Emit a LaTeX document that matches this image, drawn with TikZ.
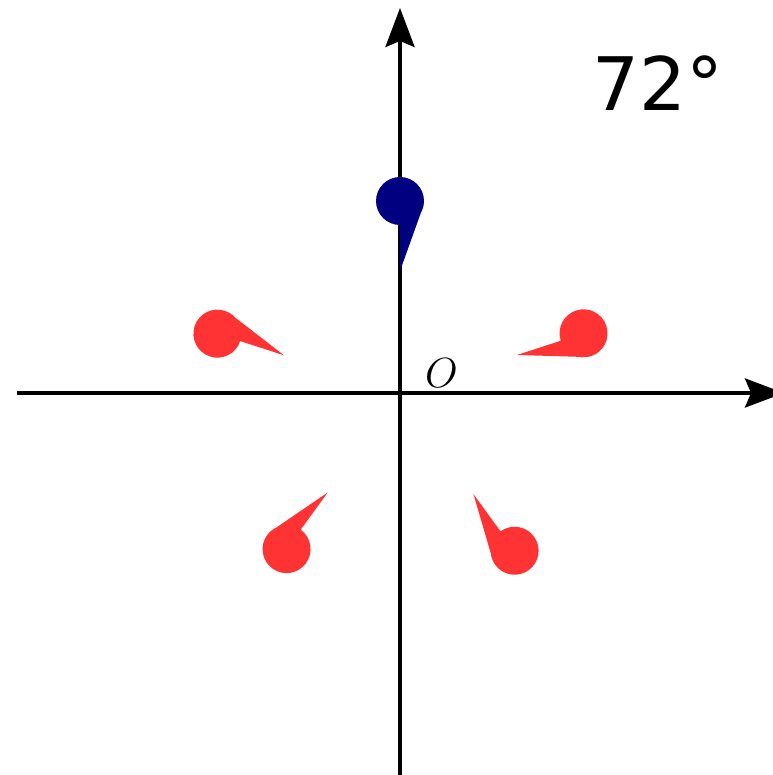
\documentclass[tikz,border=0pt]{standalone}
\usepackage{fontspec}
\usepackage{xcolor}
\usepackage{tikz}
\usetikzlibrary{arrows.meta}
\newfontfamily\anglefont{DejaVu Sans}
\definecolor{pinblue}{RGB}{0,0,128}
\definecolor{pinred}{RGB}{255,51,51}

\begin{document}
\begin{tikzpicture}[>={Stealth[length=0.39cm,width=0.29cm,inset=0.06cm]},line width=1.1pt]
  \useasboundingbox (-4.00,-3.82) rectangle (3.72,3.93);
  % axes
  \coordinate (xleft) at (-3.83,0);
  \coordinate (xright) at (3.84,0);
  \coordinate (ybottom) at (0,-3.9);
  \coordinate (ytop) at (0,3.85);
  \draw[->] (xleft) -- (xright);
  \draw[->] (ybottom) -- (ytop);
  \node (origin) at (0.415,0.195) {\fontsize{11.5}{13}\selectfont$O$};
  % pins, 72 degrees apart
  \fill[pinblue,shift={(90:1.92)},rotate=90]
    (0,0) circle (0.24) (180:0.24) -- (180:0.70) -- (240:0.24) -- cycle;
  \fill[pinred,shift={(162:1.92)},rotate=162]
    (0,0) circle (0.24) (180:0.24) -- (180:0.70) -- (240:0.24) -- cycle;
  \fill[pinred,shift={(234:1.93)},rotate=234]
    (0,0) circle (0.24) (180:0.24) -- (180:0.70) -- (240:0.24) -- cycle;
  \fill[pinred,shift={(306:1.95)},rotate=306]
    (0,0) circle (0.24) (180:0.24) -- (180:0.70) -- (240:0.24) -- cycle;
  \fill[pinred,shift={(18:1.93)},rotate=18]
    (0,0) circle (0.24) (180:0.24) -- (180:0.70) -- (240:0.24) -- cycle;
  \node (angle) at (2.58,3.095) {\anglefont\fontsize{21}{25}\selectfont 72°};
\end{tikzpicture}
\end{document}
